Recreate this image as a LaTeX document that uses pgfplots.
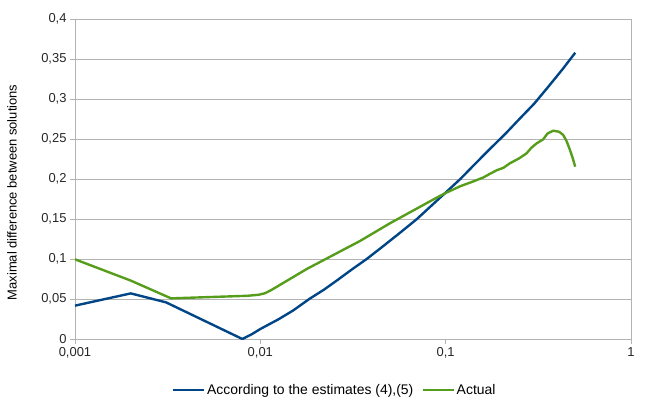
\documentclass[border=0pt]{standalone}
\usepackage{pgfplots}
\pgfplotsset{compat=1.18}
\usepackage{fontspec}
\setmainfont{Liberation Sans}
\definecolor{sblue}{HTML}{004586}
\definecolor{sgreen}{HTML}{579D1C}
\definecolor{gridc}{HTML}{B3B3B3}
\newcommand{\cf}{\fontsize{13}{15}\selectfont}
\newcommand{\lf}{\fontsize{14}{16}\selectfont}
\begin{document}
\begin{tikzpicture}
\begin{axis}[
  scale only axis,
  width=556bp, height=320bp,
  xmode=log,
  xmin=0.001, xmax=1,
  ymin=0, ymax=0.4,
  xtick={0.001,0.01,0.1,1},
  xticklabels={{0,001},{0,01},{0,1},1},
  ytick={0,0.05,0.1,0.15,0.2,0.25,0.3,0.35,0.4},
  yticklabels={0,{0,05},{0,1},{0,15},{0,2},{0,25},{0,3},{0,35},{0,4}},
  xminorticks=false,
  yminorticks=false,
  tick pos=left,
  tick align=outside,
  major tick length=5bp,
  tick style={gridc, line width=0.8pt},
  axis line style={gridc, line width=0.8pt},
  ymajorgrids,
  major grid style={gridc, line width=0.8pt},
  font=\cf,
  every tick label/.append style={font=\cf, text=black!85},
  ylabel={Maximal difference between solutions},
  every axis y label/.style={at={(axis description cs:-0.1133,0.458)}, anchor=center, rotate=90, font=\cf},
  legend columns=2,
  legend style={at={(axis description cs:0.467,-0.16)}, anchor=center, draw=none, fill=none, font=\lf, /tikz/every even column/.append style={column sep=6bp}},
  legend image code/.code={\draw[#1] (0bp,0bp) -- (31bp,0bp);},
]
\addplot[sblue, line width=2.4pt, line join=round] coordinates {
(0.001,0.0417) (0.002,0.057) (0.0031,0.0458) (0.008,0.0) (0.009,0.006)
(0.01,0.0125) (0.0125,0.0245) (0.015,0.0355) (0.0185,0.0505) (0.022,0.0615)
(0.026,0.0735) (0.031,0.0865) (0.0375,0.1) (0.045,0.1143) (0.055,0.1303)
(0.07,0.150) (0.085,0.168) (0.1,0.183) (0.12,0.200) (0.145,0.2195)
(0.175,0.2385) (0.21,0.2565) (0.25,0.275) (0.3,0.294) (0.36,0.316)
(0.43,0.338) (0.5,0.3578)
};
\addlegendentry{According to the estimates (4),(5)}
\addplot[sgreen, line width=2.4pt, line join=round] coordinates {
(0.001,0.0996) (0.002,0.073) (0.0033,0.0508) (0.0085,0.054) (0.0098,0.0553)
(0.0106,0.0572) (0.0115,0.0614) (0.0178,0.0875) (0.0345,0.1225) (0.05,0.1446) (0.09,0.177)
(0.1,0.1825) (0.12,0.191) (0.141,0.197) (0.16,0.202) (0.175,0.207)
(0.189,0.211) (0.205,0.214) (0.222,0.2196) (0.25,0.226) (0.273,0.232)
(0.29,0.239) (0.31,0.2446) (0.336,0.2496) (0.355,0.257) (0.381,0.2604)
(0.41,0.259) (0.431,0.255) (0.45,0.247) (0.469,0.236) (0.485,0.226) (0.5,0.2154)
};
\addlegendentry{Actual}
\node[anchor=base west, font=\cf] at (rel axis cs:1,0) [xshift=14bp, yshift=1bp] {t};
\end{axis}
\pgfresetboundingbox
\path (-75bp,-62bp) rectangle (576bp,339bp);
\end{tikzpicture}
\end{document}
